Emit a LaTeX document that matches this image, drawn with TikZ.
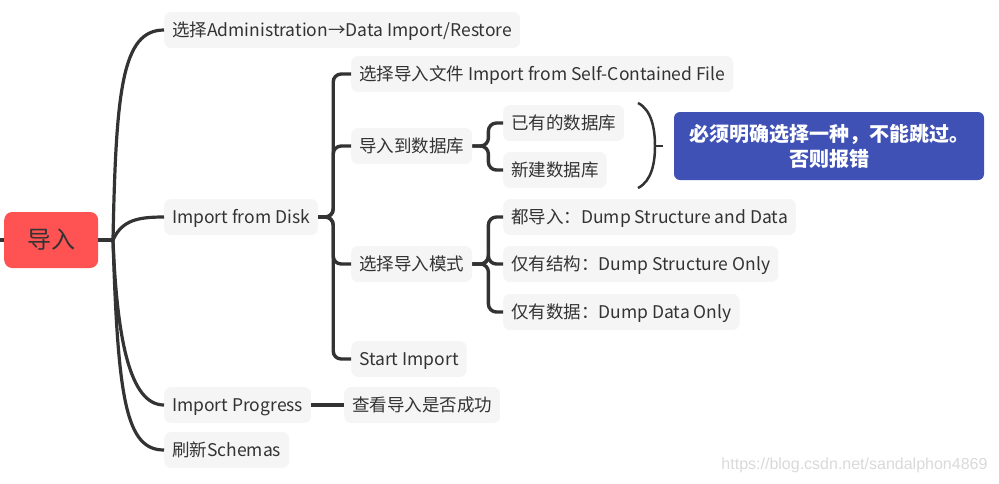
\documentclass[tikz,border=0pt]{standalone}
\usepackage{fontspec}
\setmainfont{Noto Sans CJK SC}
\newfontfamily\markfont{Liberation Sans}
\usepackage{tikz}
\usetikzlibrary{calc}
\definecolor{ink}{HTML}{333333}
\definecolor{boxgray}{HTML}{F5F5F5}
\definecolor{rootred}{HTML}{FF5353}
\definecolor{noteblue}{HTML}{3F51B5}
\tikzset{
  topic/.style={fill=boxgray, text=ink, rounded corners=7, anchor=west, inner xsep=8, inner ysep=0, minimum height=36, text height=14.5, text depth=1.5, font=\fontsize{17.5}{20}\selectfont},
  rootbox/.style={fill=rootred, text=ink, rounded corners=8, anchor=west, minimum width=94, minimum height=56, font=\fontsize{24}{28}\selectfont},
  note/.style={fill=noteblue, text=white, rounded corners=6, minimum width=310, minimum height=68, align=center, font=\bfseries\fontsize{20}{25}\selectfont},
  branch/.style={draw=ink, line width=3.4, rounded corners=8},
  trunk/.style={draw=ink, line width=3.2},
}

\begin{document}
\begin{tikzpicture}[x=1pt, y=-1pt]
\useasboundingbox (0,0) rectangle (999,483);

%root and first level
\node[rootbox] (root) at (4,240) {导入};
\coordinate (lstub) at (0,240);
\coordinate (hub) at (113,240);
\node[topic] (adm) at (164,30) {选择Administration→Data Import/Restore};
\node[topic] (disk) at (164,217) {Import from Disk};
\node[topic] (prog) at (164,405) {Import Progress};
\node[topic] (fresh) at (164,450) {刷新Schemas};

%second level
\node[topic] (file) at (351,74) {选择导入文件 Import from Self-Contained File};
\node[topic] (todb) at (351,146) {导入到数据库};
\node[topic] (mode) at (351,264) {选择导入模式};
\node[topic] (start) at (351,359) {Start Import};
\node[topic] (check) at (344,405) {查看导入是否成功};

%third level
\node[topic] (olddb) at (503,123) {已有的数据库};
\node[topic] (newdb) at (503,170) {新建数据库};
\node[topic] (both) at (503,217) {都导入：Dump Structure and Data};
\node[topic] (struct) at (503,264) {仅有结构：Dump Structure Only};
\node[topic] (data) at (503,312) {仅有数据：Dump Data Only};
\node[note] (note) at (829,146) {必须明确选择一种，不能跳过。\\否则报错};

\node[anchor=east, text=gray!30, font=\markfont\fontsize{16}{18}\selectfont] (mark) at (991,465) {https://blog.csdn.net/sandalphon4869};

\draw[trunk] (lstub) -- (root.west);
\draw[trunk] (root.east) -- (hub);
\draw[trunk] (hub) .. controls (116,90) and (122,30) .. (adm.west);
\draw[trunk] (hub) .. controls (122,220) and (138,217) .. (disk.west);
\draw[trunk] (hub) .. controls (117,340) and (130,405) .. (prog.west);
\draw[trunk] (hub) .. controls (118,400) and (126,450) .. (fresh.west);

\foreach \c in {file,todb,mode,start} {\draw[branch] (disk.east) -- ++(15,0) |- (\c.west);}
\foreach \c in {olddb,newdb} {\draw[branch] (todb.east) -- ++(16,0) |- (\c.west);}
\foreach \c in {both,struct,data} {\draw[branch] (mode.east) -- ++(16,0) |- (\c.west);}
\draw[branch] (prog.east) -- (check.west);

%bracket
\draw[ink, line width=2.5] (638,103) .. controls (652,110) and (655,130) .. (655,146) .. controls (655,162) and (652,181) .. (638,188);
\draw[ink, line width=2.5] (655,146) -- (663,146);
\end{tikzpicture}
\end{document}
